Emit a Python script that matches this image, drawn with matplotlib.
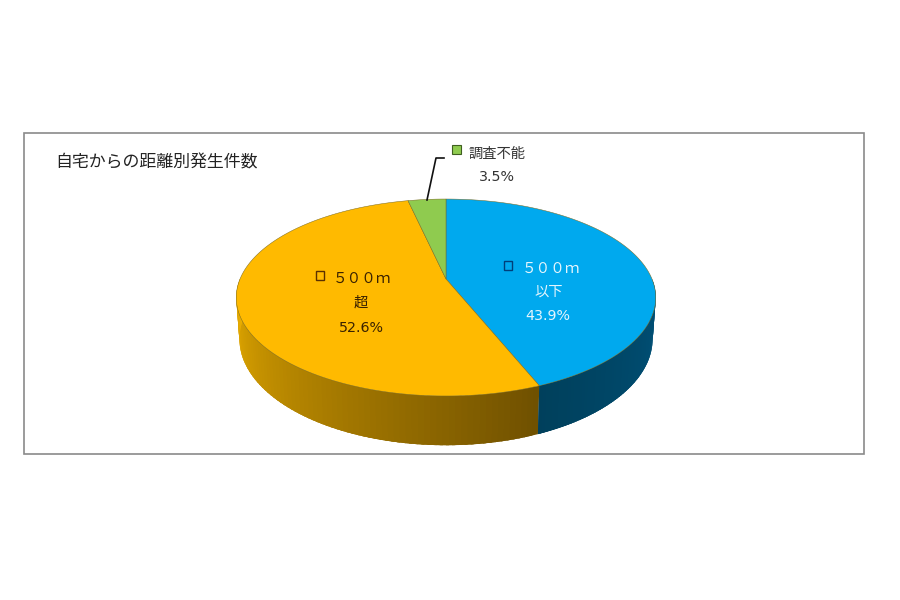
import numpy as np
import matplotlib
matplotlib.use('Agg')
import matplotlib.pyplot as plt
from matplotlib.patches import Polygon, Rectangle

plt.rcParams['font.family'] = ['Noto Sans CJK JP', 'DejaVu Sans']

title = '自宅からの距離別発生件数'
# clockwise from 12 o'clock
names = ['500m以下', '500m超', '調査不能']
shares = [43.9, 52.6, 3.5]
top_colors = ['#00a9ee', '#ffba00', '#8fcb4f']
# wall colour at the right hand end and at the left hand end of each slice
side_right = ['#00537c', '#6f5000', '#6f9a3a']
side_left = ['#00405c', '#edb000', '#6f9a3a']

# pie geometry in pixels, the tilt gives the off centre apex
cx, cy = 446, 279
rx, ry = 206, 95
tilt = 0.188
depth = 40
shrink = 0.985


def project(theta, lower=False):
    x = np.sin(theta)
    y = np.cos(theta)
    w = 1 + tilt * y
    u = rx * x / w
    v = -ry * y / w
    if lower:
        return cx + u * shrink, cy + v + depth / w
    return cx + u, cy + v


def mix(c1, c2, t):
    a = np.array(matplotlib.colors.to_rgb(c1))
    b = np.array(matplotlib.colors.to_rgb(c2))
    return tuple(a + (b - a) * t)


fig = plt.figure(figsize=(9, 6), dpi=100)
ax = fig.add_axes([0, 0, 1, 1])
ax.set_xlim(0, 900)
ax.set_ylim(600, 0)
ax.axis('off')

ax.add_patch(Rectangle((24, 133), 840, 321, fc='white', ec='#8a8a8a', lw=1.2, zorder=0))

edges = np.cumsum([0] + shares) / 100 * 2 * np.pi

# side wall first, only the part facing the viewer shows
for i in range(len(shares)):
    lo = max(edges[i], np.pi / 2)
    hi = min(edges[i + 1], 3 * np.pi / 2)
    if hi <= lo:
        continue
    steps = np.linspace(lo, hi, 80)
    for j in range(len(steps) - 1):
        t = (j + 0.5) / (len(steps) - 1)
        c = mix(side_right[i], side_left[i], t)
        # run each strip under the next one so no seams show
        s0, s1 = steps[j], min(steps[j] + 2.5 * (steps[1] - steps[0]), hi)
        pts = [project(s0), project(s1), project(s1, True), project(s0, True)]
        ax.add_patch(Polygon(pts, fc=c, ec='none', zorder=1 + j / 1000))

# top faces
for i in range(len(shares)):
    ang = np.linspace(edges[i], edges[i + 1], 200)
    xs, ys = project(ang)
    pts = [(cx, cy)] + list(zip(xs, ys))
    ax.add_patch(Polygon(pts, fc=top_colors[i], ec='#7a6a20', lw=0.35, joinstyle='round', zorder=2))

ax.text(55, 162, title, fontsize=12.2, color='#222222', va='center', ha='left')

# blue label
ax.add_patch(Rectangle((504, 261), 8, 9, fc='none', ec='#003f7a', lw=1, zorder=3))
ax.text(551, 269, '５００ｍ', fontsize=10.5, color='#e4f5fd', ha='center', va='center')
ax.text(549, 292, '以下', fontsize=10.3, color='#e4f5fd', ha='center', va='center')
ax.text(548, 316, f'{shares[0]}%', fontsize=10.3, color='#e4f5fd', ha='center', va='center',
        family=['DejaVu Sans', 'Noto Sans CJK JP'])

# orange label
ax.add_patch(Rectangle((316, 271), 8, 9, fc='none', ec='#5a3000', lw=1, zorder=3))
ax.text(362, 279, '５００ｍ', fontsize=10.5, color='#3a2200', ha='center', va='center')
ax.text(361, 303, '超', fontsize=10.3, color='#3a2200', ha='center', va='center')
ax.text(361, 328, f'{shares[1]}%', fontsize=10.3, color='#3a2200', ha='center', va='center',
        family=['DejaVu Sans', 'Noto Sans CJK JP'])

# green label with leader
ax.add_patch(Rectangle((452, 145), 9, 9, fc=top_colors[2], ec='#3f5f20', lw=0.8, zorder=3))
ax.text(497, 154, names[2], fontsize=10.3, color='#333333', ha='center', va='center')
ax.text(497, 177, f'{shares[2]}%', fontsize=10.3, color='#333333', ha='center', va='center',
        family=['DejaVu Sans', 'Noto Sans CJK JP'])
ax.plot([427, 436, 444], [200, 158, 158], color='#111111', lw=1.2, zorder=3)

fig.savefig('out.png', dpi=100, facecolor='white')
